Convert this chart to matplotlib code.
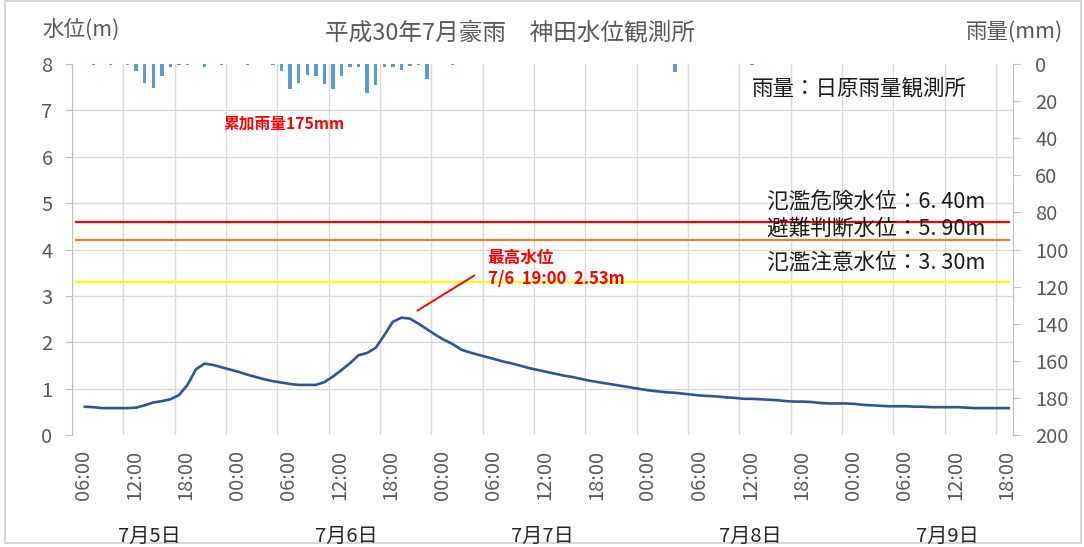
import matplotlib
matplotlib.use('Agg')
import matplotlib.pyplot as plt
from matplotlib.patches import Rectangle

plt.rcParams['font.family'] = ['Noto Sans CJK JP', 'DejaVu Sans']

# hourly categories, index 0 = 7/5 05:00, data from 7/5 06:00 (index 1) to 7/9 18:00 (index 109)
n_cat = 110
level_first = 1
water_level = [
    0.61, 0.60, 0.58, 0.58, 0.58, 0.58, 0.59, 0.64, 0.70, 0.73,
    0.77, 0.86, 1.08, 1.42, 1.54, 1.51, 1.46, 1.41, 1.36, 1.30,
    1.25, 1.20, 1.16, 1.13, 1.10, 1.08, 1.08, 1.08, 1.14, 1.26,
    1.40, 1.55, 1.72, 1.77, 1.88, 2.15, 2.44, 2.53, 2.51, 2.40,
    2.28, 2.16, 2.05, 1.96, 1.84, 1.78, 1.73, 1.68, 1.63, 1.58,
    1.54, 1.49, 1.44, 1.40, 1.36, 1.32, 1.28, 1.25, 1.21, 1.17,
    1.14, 1.11, 1.08, 1.05, 1.02, 0.99, 0.96, 0.94, 0.92, 0.91,
    0.89, 0.87, 0.85, 0.84, 0.83, 0.81, 0.80, 0.78, 0.78, 0.77,
    0.76, 0.75, 0.73, 0.72, 0.72, 0.71, 0.69, 0.68, 0.68, 0.68,
    0.67, 0.65, 0.64, 0.63, 0.62, 0.62, 0.62, 0.61, 0.61, 0.60,
    0.60, 0.60, 0.60, 0.59, 0.58, 0.58, 0.58, 0.58, 0.58,
]
rain_idx = [2, 4, 6, 7, 8, 9, 10, 11, 12, 13, 15, 17, 20, 23, 24, 25, 26, 27, 28,
            29, 30, 31, 32, 33, 34, 35, 36, 37, 38, 39, 40, 41, 44, 70, 79]
rain_mm = [0.5, 0.5, 0.5, 3.8, 10.0, 12.8, 6.5, 1.5, 0.5, 0.5, 1.5, 0.5, 0.5, 0.5,
           3.8, 13.6, 10.0, 5.9, 6.5, 10.8, 13.6, 6.5, 1.8, 1.8, 15.8, 11.3, 1.8,
           1.8, 3.2, 1.0, 0.5, 8.3, 0.5, 4.3, 0.5]

warn_levels = [4.6, 4.2, 3.3]
warn_colors = ['#ff0000', '#ed7d31', '#ffff00']
warn_texts = ['氾濫危険水位：6. 40m', '避難判断水位：5. 90m', '氾濫注意水位：3. 30m']
warn_text_y = [5.04, 4.44, 3.71]

time_names = ['06:00', '12:00', '18:00', '00:00']
day_labels = ['7月5日', '7月6日', '7月7日', '7月8日', '7月9日']
day_label_x = [9.1, 32.1, 55.0, 79.3, 102.3]

gray = '#595959'
grid_c = '#d9d9d9'

fig = plt.figure(figsize=(10.84, 5.47), dpi=100)
ax = fig.add_axes([72 / 1084, 112 / 547, 941 / 1084, 371 / 547])
ax2 = ax.twinx()

xs = [i + 0.5 for i in range(level_first, level_first + len(water_level))]
for lv, c in zip(warn_levels, warn_colors):
    ax.plot([0.5, n_cat - 0.5], [lv, lv], color=c, lw=1.6, zorder=2)
ax.plot(xs, water_level, color='#2f5597', lw=1.9, zorder=3)

ax2.bar([i + 0.5 for i in rain_idx], rain_mm, width=0.4, color='#5b9bd5', zorder=2)
ax2.set_ylim(200, 0)
ax2.set_yticks(range(0, 201, 20))

ax.set_xlim(0, n_cat)
ax.set_ylim(0, 8)
ax.set_yticks(range(0, 9))

# x axis: labels every 6 hours, gridlines on category boundaries
lab_pos = list(range(level_first, n_cat, 6))
ax.set_xticks([p + 0.3 for p in lab_pos])
ax.set_xticklabels([time_names[k % 4] for k in range(len(lab_pos))], rotation=90)
ax.set_xticks(range(0, n_cat, 6), minor=True)
ax.tick_params(axis='x', which='both', length=0, labelsize=14.5, labelcolor=gray, pad=11)
ax.grid(True, axis='x', which='minor', color=grid_c, lw=1)
ax.grid(True, axis='y', which='major', color=grid_c, lw=1)
ygl = ax.yaxis.get_gridlines()
ygl[0].set_visible(False)
ygl[-1].set_visible(False)
ax.tick_params(axis='y', direction='out', length=5, color='#bfbfbf', labelsize=14.5,
               labelcolor=gray, pad=9)
ax2.tick_params(axis='y', direction='out', length=5, color='#bfbfbf', labelsize=14.5,
                labelcolor=gray, pad=11)

for sp in ['top', 'bottom', 'right']:
    ax.spines[sp].set_visible(False)
for sp in ['top', 'bottom', 'left']:
    ax2.spines[sp].set_visible(False)
ax.spines['left'].set_color('#bfbfbf')
ax2.spines['right'].set_color('#bfbfbf')
ax.set_axisbelow(True)

for x, t in zip(day_label_x, day_labels):
    ax.text(x, -0.272, t, transform=ax.get_xaxis_transform(), ha='center', va='center',
            fontsize=14.5, color='#262626')

for y, t in zip(warn_text_y, warn_texts):
    ax.text(81.2, y, t, ha='left', va='center', fontsize=15.6, color='#1a1a1a', zorder=5)

ax.text(0.7226, 0.935, '雨量：日原雨量観測所', transform=ax.transAxes, ha='left', va='center',
        fontsize=15.5, color='#1a1a1a')

ax.text(17.65, 6.72, '累加雨量175mm', ha='left', va='center', fontsize=11.3,
        fontweight='bold', color='#ff0000')
ax.text(48.6, 3.81, '最高水位', ha='left', va='center', fontsize=12,
        fontweight='bold', color='#ff0000', zorder=5)
ax.text(48.6, 3.36, '7/6  19:00  2.53m', ha='left', va='center', fontsize=12,
        fontweight='bold', color='#ff0000', zorder=5)
ax.annotate('', xy=(40.1, 2.65), xytext=(47.3, 3.47),
            arrowprops=dict(arrowstyle='-', color='#ff0000', lw=1.4))

fig.text(42 / 1084, 0.945, '水位(m)', ha='left', va='center', fontsize=15.5, color=gray)
fig.text(0.4705, 0.938, '平成30年7月豪雨　神田水位観測所', ha='center', va='center',
         fontsize=17, color=gray)
fig.text(1063 / 1084, 0.9415, '雨量(mm)', ha='right', va='center', fontsize=15.5, color=gray)

fig.patches.append(Rectangle((5 / 1084, 4 / 547), 1076 / 1084, 542 / 547, transform=fig.transFigure,
                             fill=False, edgecolor='#d0d0d0', lw=1.2, zorder=-1))

fig.savefig('out.png', dpi=100)
